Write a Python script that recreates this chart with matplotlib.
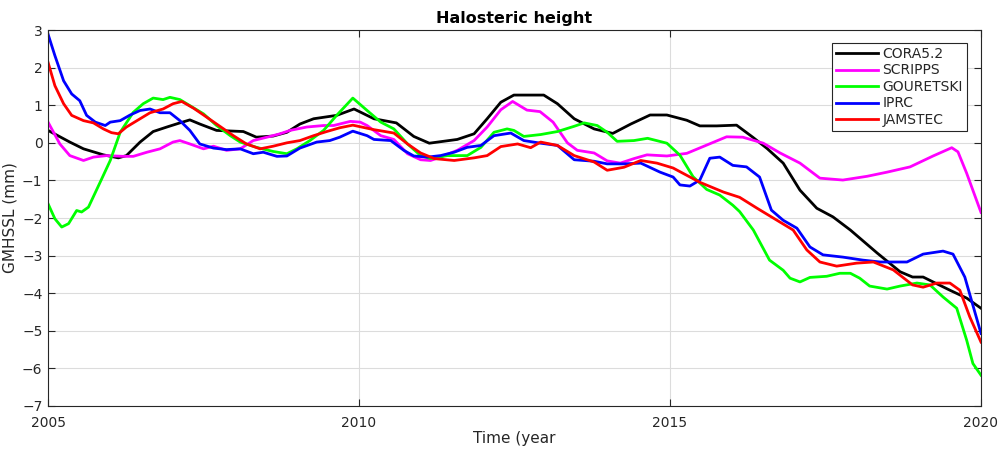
import matplotlib
matplotlib.use("Agg")
import matplotlib.pyplot as plt

# values (decimal year, mm)
cora_t = [2005.0, 2005.35, 2005.57, 2005.89, 2006.13, 2006.26, 2006.48, 2006.69, 2006.91, 2007.12,
          2007.28, 2007.44, 2007.71, 2008.14, 2008.35, 2008.62, 2008.84, 2009.05, 2009.27, 2009.64,
          2009.92, 2010.24, 2010.6, 2010.88, 2011.13, 2011.58, 2011.85, 2012.06, 2012.28, 2012.49,
          2012.97, 2013.19, 2013.46, 2013.78, 2014.08, 2014.37, 2014.68, 2014.95, 2015.27, 2015.48,
          2015.75, 2016.07, 2016.33, 2016.56, 2016.82, 2017.09, 2017.36, 2017.62, 2017.9, 2018.33,
          2018.7, 2018.9, 2019.07, 2019.5, 2019.77, 2020.0]
cora_v = [0.33, 0.02, -0.16, -0.32, -0.4, -0.34, 0.02, 0.3, 0.42, 0.53,
          0.61, 0.5, 0.33, 0.3, 0.15, 0.18, 0.28, 0.5, 0.64, 0.73,
          0.9, 0.64, 0.53, 0.17, -0.01, 0.09, 0.24, 0.64, 1.08, 1.27,
          1.27, 1.04, 0.64, 0.37, 0.25, 0.5, 0.74, 0.74, 0.6, 0.45,
          0.45, 0.47, 0.15, -0.15, -0.54, -1.26, -1.74, -1.97, -2.32, -2.93,
          -3.43, -3.57, -3.57, -3.92, -4.13, -4.4]

scripps_t = [2005.0, 2005.19, 2005.35, 2005.57, 2005.73, 2005.94, 2006.21, 2006.37, 2006.59, 2006.8,
             2007.01, 2007.12, 2007.28, 2007.5, 2007.66, 2007.87, 2008.09, 2008.3, 2008.52, 2008.73,
             2008.89, 2009.16, 2009.43, 2009.59, 2009.86, 2010.02, 2010.13, 2010.35, 2010.56, 2010.78,
             2010.99, 2011.15, 2011.31, 2011.58, 2011.85, 2012.06, 2012.28, 2012.47, 2012.7, 2012.91,
             2013.12, 2013.35, 2013.51, 2013.78, 2013.99, 2014.2, 2014.42, 2014.63, 2014.95, 2015.27,
             2015.59, 2015.91, 2016.17, 2016.5, 2016.77, 2017.09, 2017.41, 2017.78, 2018.17, 2018.49,
             2018.86, 2019.23, 2019.53, 2019.63, 2019.77, 2020.0]
scripps_v = [0.55, -0.03, -0.34, -0.47, -0.38, -0.34, -0.36, -0.36, -0.25, -0.16,
             0.02, 0.06, -0.03, -0.16, -0.09, -0.2, -0.16, 0.06, 0.15, 0.24,
             0.33, 0.42, 0.46, 0.46, 0.57, 0.55, 0.46, 0.19, 0.09, -0.29,
             -0.45, -0.47, -0.38, -0.2, 0.06, 0.42, 0.88, 1.1, 0.87, 0.83,
             0.55, 0.0, -0.2, -0.27, -0.48, -0.54, -0.42, -0.32, -0.35, -0.28,
             -0.06, 0.16, 0.15, -0.01, -0.27, -0.54, -0.94, -0.99, -0.89, -0.78,
             -0.64, -0.35, -0.13, -0.24, -0.81, -1.85]

gour_t = [2005.0, 2005.11, 2005.22, 2005.33, 2005.46, 2005.54, 2005.65, 2005.84, 2006.0, 2006.16,
          2006.37, 2006.53, 2006.69, 2006.85, 2006.96, 2007.12, 2007.28, 2007.5, 2007.71, 2007.93,
          2008.09, 2008.35, 2008.62, 2008.84, 2009.0, 2009.21, 2009.43, 2009.64, 2009.9, 2010.13,
          2010.35, 2010.56, 2010.78, 2010.99, 2011.15, 2011.42, 2011.74, 2011.96, 2012.17, 2012.38,
          2012.49, 2012.65, 2012.92, 2013.19, 2013.46, 2013.62, 2013.83, 2013.99, 2014.15, 2014.42,
          2014.64, 2014.95, 2015.16, 2015.37, 2015.59, 2015.8, 2016.01, 2016.12, 2016.34, 2016.6,
          2016.82, 2016.93, 2017.09, 2017.25, 2017.52, 2017.73, 2017.9, 2018.05, 2018.21, 2018.49,
          2018.7, 2018.97, 2019.18, 2019.39, 2019.61, 2019.77, 2019.87, 2020.0]
gour_v = [-1.62, -2.02, -2.24, -2.15, -1.8, -1.84, -1.71, -1.04, -0.47, 0.28,
          0.81, 1.04, 1.19, 1.15, 1.21, 1.15, 0.99, 0.77, 0.46, 0.19,
          0.02, -0.12, -0.23, -0.29, -0.16, 0.06, 0.33, 0.73, 1.19, 0.86,
          0.55, 0.37, -0.03, -0.34, -0.42, -0.34, -0.34, -0.12, 0.28, 0.37,
          0.33, 0.17, 0.22, 0.3, 0.44, 0.53, 0.46, 0.28, 0.04, 0.06,
          0.12, -0.01, -0.33, -0.9, -1.24, -1.39, -1.66, -1.83, -2.32, -3.12,
          -3.39, -3.6, -3.7, -3.58, -3.55, -3.47, -3.47, -3.6, -3.81, -3.89,
          -3.81, -3.73, -3.78, -4.1, -4.4, -5.25, -5.87, -6.18]

iprc_t = [2005.0, 2005.11, 2005.25, 2005.38, 2005.51, 2005.62, 2005.76, 2005.92, 2006.0, 2006.16,
          2006.32, 2006.48, 2006.64, 2006.8, 2006.96, 2007.12, 2007.28, 2007.44, 2007.66, 2007.87,
          2008.09, 2008.3, 2008.46, 2008.68, 2008.84, 2009.05, 2009.32, 2009.53, 2009.69, 2009.9,
          2010.13, 2010.24, 2010.51, 2010.72, 2010.88, 2011.1, 2011.31, 2011.53, 2011.74, 2011.96,
          2012.17, 2012.44, 2012.65, 2012.92, 2013.19, 2013.46, 2013.78, 2013.99, 2014.26, 2014.53,
          2014.84, 2015.05, 2015.16, 2015.32, 2015.48, 2015.64, 2015.8, 2016.01, 2016.23, 2016.44,
          2016.63, 2016.82, 2017.04, 2017.25, 2017.46, 2017.78, 2018.1, 2018.38, 2018.81, 2019.07,
          2019.39, 2019.55, 2019.74, 2020.0]
iprc_v = [2.89, 2.32, 1.65, 1.3, 1.12, 0.73, 0.55, 0.46, 0.55, 0.59,
          0.74, 0.86, 0.9, 0.8, 0.8, 0.59, 0.33, -0.03, -0.14, -0.18,
          -0.16, -0.29, -0.25, -0.36, -0.35, -0.14, 0.02, 0.06, 0.15, 0.31,
          0.19, 0.09, 0.06, -0.2, -0.35, -0.38, -0.34, -0.25, -0.12, -0.07,
          0.19, 0.26, 0.06, -0.01, -0.07, -0.45, -0.49, -0.56, -0.56, -0.54,
          -0.78, -0.91, -1.12, -1.15, -0.99, -0.41, -0.38, -0.6, -0.64, -0.91,
          -1.79, -2.06, -2.27, -2.77, -2.98, -3.04, -3.12, -3.17, -3.17, -2.96,
          -2.88, -2.96, -3.57, -5.07]

jam_t = [2005.0, 2005.11, 2005.25, 2005.38, 2005.57, 2005.73, 2005.89, 2006.02, 2006.13, 2006.26,
         2006.48, 2006.64, 2006.85, 2007.01, 2007.15, 2007.34, 2007.5, 2007.71, 2007.98, 2008.19,
         2008.41, 2008.62, 2008.84, 2009.05, 2009.27, 2009.48, 2009.69, 2009.9, 2010.24, 2010.56,
         2010.78, 2010.99, 2011.21, 2011.53, 2011.85, 2012.06, 2012.28, 2012.55, 2012.76, 2012.92,
         2013.19, 2013.46, 2013.78, 2013.99, 2014.26, 2014.53, 2014.79, 2015.05, 2015.48, 2015.86,
         2016.12, 2016.4, 2016.77, 2016.98, 2017.2, 2017.41, 2017.68, 2018.0, 2018.27, 2018.59,
         2018.9, 2019.07, 2019.29, 2019.5, 2019.66, 2019.82, 2020.0]
jam_v = [2.14, 1.52, 1.04, 0.73, 0.59, 0.53, 0.37, 0.27, 0.24, 0.42,
         0.64, 0.8, 0.9, 1.04, 1.1, 0.92, 0.74, 0.5, 0.19, -0.03,
         -0.16, -0.09, 0.0, 0.06, 0.19, 0.3, 0.4, 0.47, 0.35, 0.26,
         -0.03, -0.27, -0.42, -0.47, -0.4, -0.34, -0.1, -0.03, -0.13, 0.02,
         -0.07, -0.34, -0.51, -0.73, -0.65, -0.47, -0.54, -0.67, -1.05, -1.31,
         -1.45, -1.74, -2.11, -2.32, -2.85, -3.17, -3.28, -3.2, -3.17, -3.38,
         -3.78, -3.84, -3.73, -3.73, -3.92, -4.63, -5.3]

names = ["CORA5.2", "SCRIPPS", "GOURETSKI", "IPRC", "JAMSTEC"]
colors = ["#000000", "#ff00ff", "#00ff00", "#0000ff", "#ff0000"]
series = [(cora_t, cora_v), (scripps_t, scripps_v), (gour_t, gour_v),
          (iprc_t, iprc_v), (jam_t, jam_v)]

txt = "#262626"
fig = plt.figure(figsize=(10.01, 4.55), dpi=100)
ax = fig.add_axes([0.048, 0.1077, 0.932, 0.8263])

for (t, v), nm, c in zip(series, names, colors):
    ax.plot(t, v, color=c, lw=2, label=nm)

ax.set_xlim(2005, 2020)
ax.set_ylim(-7, 3)
ax.set_xticks([2005, 2010, 2015, 2020])
ax.set_yticks(range(-7, 4))
ax.grid(True, color="#dcdcdc", lw=0.8)
ax.set_axisbelow(True)
ax.tick_params(direction="in", top=True, right=True, length=5, labelsize=10,
               colors=txt)
ax.tick_params(axis="x", pad=7)
ax.tick_params(axis="y", pad=4)
for s in ax.spines.values():
    s.set_color(txt)
    s.set_linewidth(0.8)

ax.set_title("Halosteric height", fontsize=11.5, fontweight="bold", color="#000000", pad=5)
ax.set_xlabel("Time (year", fontsize=11, color=txt, labelpad=1)
ax.set_ylabel("GMHSSL (mm)", fontsize=11, color=txt, labelpad=3)

leg = ax.legend(loc="upper right", bbox_to_anchor=(0.985, 0.966), fontsize=10,
                handlelength=3.0, handletextpad=0.35, borderpad=0.3, labelspacing=0.18,
                fancybox=False, framealpha=1, borderaxespad=0)
leg.get_frame().set_edgecolor(txt)
leg.get_frame().set_linewidth(0.8)
for tx in leg.get_texts():
    tx.set_color(txt)

fig.savefig("out.png", dpi=100)
